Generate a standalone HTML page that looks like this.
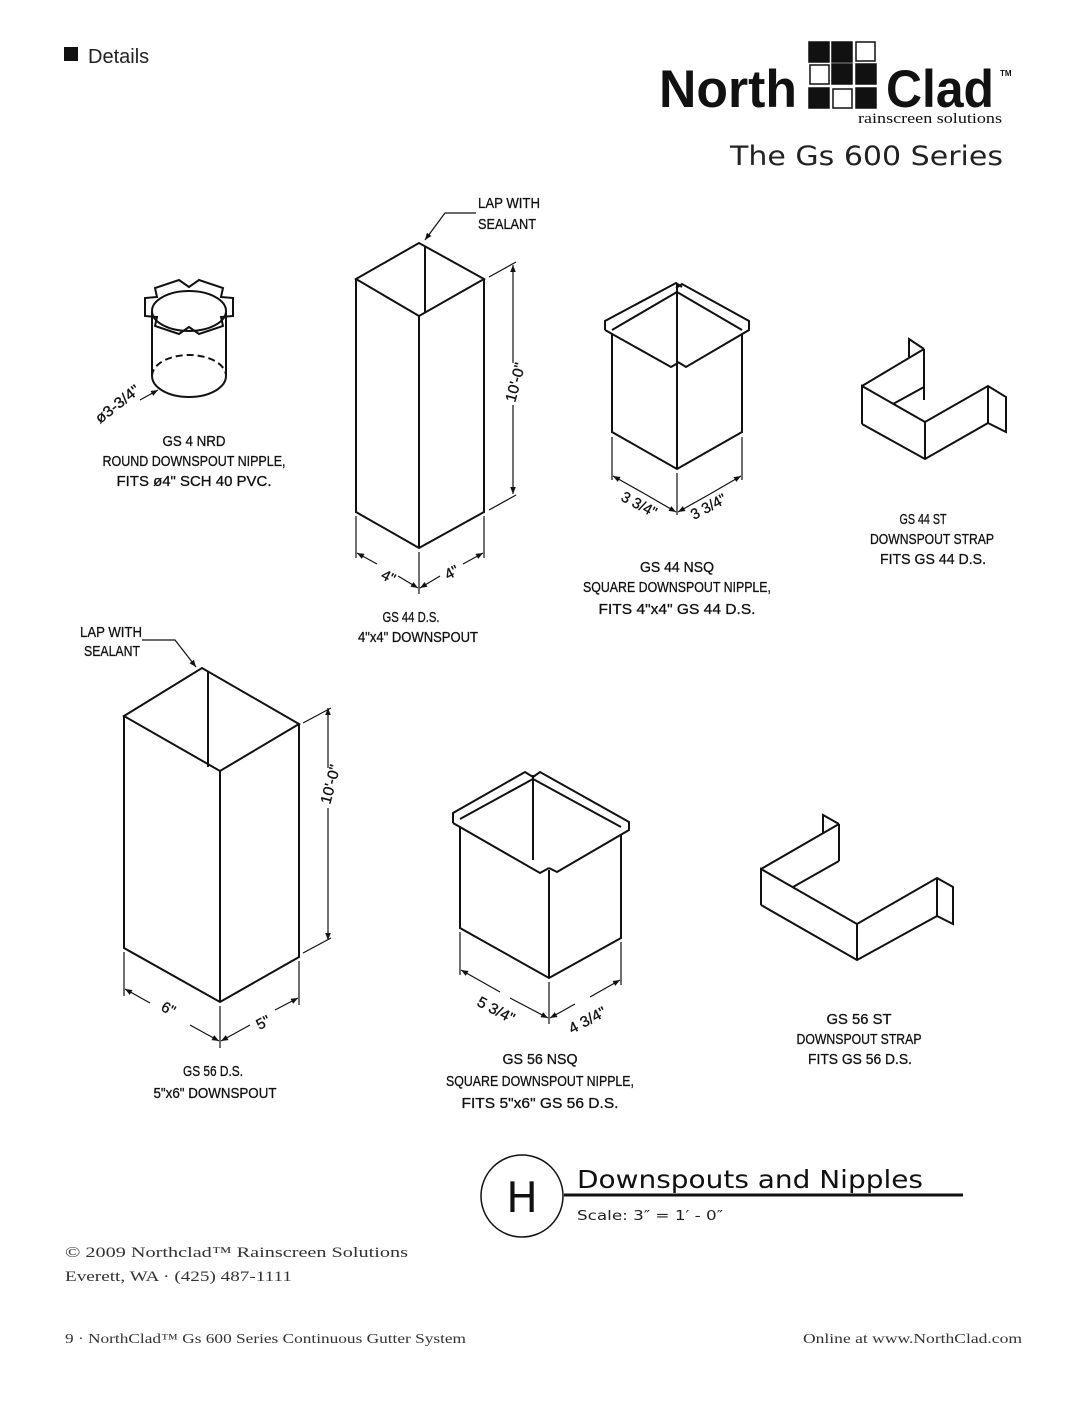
<!DOCTYPE html>
<html><head><meta charset="utf-8"><style>
html,body{margin:0;padding:0;background:#fff;}
svg{display:block;}
.t{font-family:"Liberation Sans Narrow","Liberation Sans",sans-serif;font-size:15px;fill:#111;stroke:#111;stroke-width:0.3;}
.l{fill:none;stroke:#111;stroke-width:2;stroke-linejoin:miter;}
.d{fill:none;stroke:#111;stroke-width:1.2;}
</style></head><body>
<svg width="1088" height="1408" viewBox="0 0 1088 1408" xmlns="http://www.w3.org/2000/svg">
<defs>
<marker id="a" viewBox="0 0 10 10" refX="10" refY="5" markerWidth="9" markerHeight="7" orient="auto-start-reverse" markerUnits="userSpaceOnUse"><path d="M0,1 L10,5 L0,9 z" fill="#111"/></marker>
</defs>
<!-- header -->
<rect x="64" y="47" width="14" height="14" fill="#111"/>
<text x="88" y="63" font-family="Liberation Sans,sans-serif" font-size="20" fill="#222">Details</text>
<text x="659" y="107" font-family="Liberation Sans,sans-serif" font-weight="bold" font-size="53" fill="#111" textLength="138" lengthAdjust="spacingAndGlyphs">North</text>
<text x="886" y="107" font-family="Liberation Sans,sans-serif" font-weight="bold" font-size="53" fill="#111" textLength="108" lengthAdjust="spacingAndGlyphs">Clad</text>
<text x="1000" y="76" font-family="Liberation Sans,sans-serif" font-weight="bold" font-size="8" fill="#111">TM</text>
<g fill="#111" stroke="#111" stroke-width="1.5">
<rect x="809" y="42" width="20" height="20"/><rect x="832" y="42" width="20" height="20"/><rect x="856" y="42" width="19" height="19" fill="#fff"/>
<rect x="810" y="65" width="19" height="19" fill="#fff"/><rect x="832" y="64" width="20" height="20"/><rect x="856" y="64" width="20" height="20"/>
<rect x="809" y="88" width="20" height="20"/><rect x="833" y="89" width="19" height="19" fill="#fff"/><rect x="856" y="88" width="20" height="20"/>
</g>
<text x="858" y="123" font-family="Liberation Serif,serif" font-size="15" fill="#111" textLength="144" lengthAdjust="spacingAndGlyphs">rainscreen solutions</text>
<text x="730" y="165" font-family="DejaVu Sans,sans-serif" font-size="27" fill="#222" textLength="273" lengthAdjust="spacingAndGlyphs">The Gs 600 Series</text>

<!-- GS 4 NRD -->
<polygon class="l" points="233,298 221,297 223,288 199,280 189,287 179,280 155,288 157,297 145,298 145,316 157,317 155,326 179,334 189,327 199,334 223,326 221,317 233,316" fill="#fff"/>
<line class="l" x1="152" y1="312" x2="152" y2="376"/><line class="l" x1="226" y1="312" x2="226" y2="376"/>
<ellipse class="l" cx="189" cy="311" rx="37" ry="20" fill="#fff"/>
<path class="l" d="M152,376 A37,21 0 0 0 226,376"/>
<path class="l" d="M152,376 A37,21 0 0 1 226,376" stroke-dasharray="7,4"/>
<line class="d" x1="140" y1="400" x2="158" y2="390" marker-end="url(#a)"/>
<text class="t" transform="translate(100,424) rotate(-38)" textLength="52" lengthAdjust="spacingAndGlyphs">ø3-3/4"</text>
<text class="t" x="194" y="446" text-anchor="middle" textLength="63" lengthAdjust="spacingAndGlyphs">GS 4 NRD</text>
<text class="t" x="194" y="466" text-anchor="middle" textLength="183" lengthAdjust="spacingAndGlyphs">ROUND DOWNSPOUT NIPPLE,</text>
<text class="t" x="194" y="486" text-anchor="middle" textLength="155" lengthAdjust="spacingAndGlyphs">FITS ø4"  SCH 40 PVC.</text>

<!-- GS 44 DS -->
<polygon class="l" points="356,279 419,243 484,279 419,316"/>
<line class="l" x1="425" y1="246" x2="425" y2="313"/>
<polyline class="l" points="356,279 356,512 419,548 484,512 484,279"/>
<line class="l" x1="419" y1="316" x2="419" y2="548"/>
<polyline class="d" points="476,213 445,213 425,240" marker-end="url(#a)"/>
<text class="t" x="478" y="208" textLength="62" lengthAdjust="spacingAndGlyphs">LAP WITH</text>
<text class="t" x="478" y="229" textLength="58" lengthAdjust="spacingAndGlyphs">SEALANT</text>
<line class="d" x1="489" y1="277" x2="516" y2="262"/><line class="d" x1="489" y1="510" x2="516" y2="495"/>
<line class="d" x1="513" y1="363" x2="513" y2="265" marker-end="url(#a)"/>
<line class="d" x1="513" y1="405" x2="513" y2="494" marker-end="url(#a)"/>
<text class="t" transform="translate(515,403) rotate(-75)" textLength="40" lengthAdjust="spacingAndGlyphs">10'-0"</text>
<line class="d" x1="356" y1="516" x2="356" y2="558"/><line class="d" x1="484" y1="516" x2="484" y2="558"/><line class="d" x1="419" y1="552" x2="419" y2="594"/>
<line class="d" x1="377" y1="564" x2="357" y2="553" marker-end="url(#a)"/><line class="d" x1="398" y1="576" x2="418" y2="588" marker-end="url(#a)"/>
<line class="d" x1="463" y1="564" x2="483" y2="553" marker-end="url(#a)"/><line class="d" x1="440" y1="576" x2="420" y2="588" marker-end="url(#a)"/>
<text class="t" transform="translate(380,578) rotate(28)">4"</text>
<text class="t" transform="translate(448,580) rotate(-28)">4"</text>
<text class="t" x="411" y="622" text-anchor="middle" textLength="57" lengthAdjust="spacingAndGlyphs">GS 44 D.S.</text>
<text class="t" x="418" y="642" text-anchor="middle" textLength="120" lengthAdjust="spacingAndGlyphs">4"x4" DOWNSPOUT</text>

<!-- GS 44 NSQ -->
<polyline class="l" points="605,330 605,321 676,283 682,287"/>
<polyline class="l" points="676,288 682,284 749,321 749,330 686,367 678,362"/>
<polyline class="l" points="605,330 671,367 678,363"/>
<line class="l" x1="612" y1="330" x2="677" y2="292"/>
<line class="l" x1="677" y1="292" x2="742" y2="330"/>
<polyline class="l" points="612,334 612,432 677,469 742,432 742,334"/>
<line class="l" x1="677" y1="284" x2="677" y2="469"/>
<line class="d" x1="612" y1="437" x2="612" y2="480"/><line class="d" x1="742" y1="437" x2="742" y2="480"/><line class="d" x1="677" y1="473" x2="677" y2="515"/>
<line class="d" x1="645" y1="494" x2="613" y2="476" marker-end="url(#a)"/><line class="d" x1="645" y1="494" x2="676" y2="512" marker-end="url(#a)"/>
<line class="d" x1="710" y1="494" x2="741" y2="476" marker-end="url(#a)"/><line class="d" x1="710" y1="494" x2="678" y2="512" marker-end="url(#a)"/>
<text class="t" transform="translate(620,500) rotate(28)" textLength="38" lengthAdjust="spacingAndGlyphs">3 3/4"</text>
<text class="t" transform="translate(694,520) rotate(-28)" textLength="38" lengthAdjust="spacingAndGlyphs">3 3/4"</text>
<text class="t" x="677" y="572" text-anchor="middle" textLength="74" lengthAdjust="spacingAndGlyphs">GS 44 NSQ</text>
<text class="t" x="677" y="592" text-anchor="middle" textLength="188" lengthAdjust="spacingAndGlyphs">SQUARE DOWNSPOUT NIPPLE,</text>
<text class="t" x="677" y="614" text-anchor="middle" textLength="157" lengthAdjust="spacingAndGlyphs">FITS 4"x4"  GS 44 D.S.</text>

<!-- GS 44 ST -->
<g class="l">
<polyline points="909,357 909,339 924,349"/>
<line x1="862" y1="386" x2="924" y2="349"/>
<line x1="924" y1="349" x2="924" y2="400"/>
<line x1="893" y1="404" x2="924" y2="387"/>
<polyline points="862,424 862,386 925,422 988,386 1006,397 1006,432 988,423"/>
<polyline points="862,424 925,459 988,423 988,386"/>
<line x1="925" y1="422" x2="925" y2="459"/>
</g>
<text class="t" x="923" y="524" text-anchor="middle" textLength="47" lengthAdjust="spacingAndGlyphs">GS 44 ST</text>
<text class="t" x="932" y="544" text-anchor="middle" textLength="124" lengthAdjust="spacingAndGlyphs">DOWNSPOUT STRAP</text>
<text class="t" x="933" y="564" text-anchor="middle" textLength="106" lengthAdjust="spacingAndGlyphs">FITS GS 44 D.S.</text>

<!-- GS 56 DS -->
<polygon class="l" points="124,716 202,668 299,724 220,771"/>
<line class="l" x1="208" y1="672" x2="208" y2="767"/>
<polyline class="l" points="124,716 124,948 220,1002 299,957 299,724"/>
<line class="l" x1="220" y1="771" x2="220" y2="1002"/>
<polyline class="d" points="142,640 175,640 196,667" marker-end="url(#a)"/>
<text class="t" x="80" y="637" textLength="62" lengthAdjust="spacingAndGlyphs">LAP WITH</text>
<text class="t" x="84" y="656" textLength="56" lengthAdjust="spacingAndGlyphs">SEALANT</text>
<line class="d" x1="303" y1="723" x2="331" y2="708"/><line class="d" x1="303" y1="953" x2="331" y2="938"/>
<line class="d" x1="328" y1="768" x2="328" y2="708" marker-end="url(#a)"/>
<line class="d" x1="328" y1="808" x2="328" y2="940" marker-end="url(#a)"/>
<text class="t" transform="translate(330,805) rotate(-75)" textLength="40" lengthAdjust="spacingAndGlyphs">10'-0"</text>
<line class="d" x1="124" y1="952" x2="124" y2="996"/><line class="d" x1="299" y1="961" x2="299" y2="1005"/><line class="d" x1="220" y1="1006" x2="220" y2="1048"/>
<line class="d" x1="150" y1="1003" x2="125" y2="989" marker-end="url(#a)"/><line class="d" x1="190" y1="1025" x2="219" y2="1041" marker-end="url(#a)"/>
<line class="d" x1="275" y1="1010" x2="298" y2="998" marker-end="url(#a)"/><line class="d" x1="250" y1="1025" x2="221" y2="1041" marker-end="url(#a)"/>
<text class="t" transform="translate(160,1010) rotate(28)">6"</text>
<text class="t" x="256" y="1028" transform="rotate(-28 262 1022)">5"</text>
<text class="t" x="213" y="1076" text-anchor="middle" textLength="60" lengthAdjust="spacingAndGlyphs">GS 56 D.S.</text>
<text class="t" x="215" y="1098" text-anchor="middle" textLength="123" lengthAdjust="spacingAndGlyphs">5"x6" DOWNSPOUT</text>

<!-- GS 56 NSQ -->
<polyline class="l" points="453,823 453,813 525,772 533,777"/>
<polyline class="l" points="533,777 540,772 629,822 629,830 557,872 549,868"/>
<polyline class="l" points="453,823 540,873 549,868"/>
<line class="l" x1="460" y1="819" x2="533" y2="779"/>
<line class="l" x1="533" y1="779" x2="621" y2="827"/>
<polyline class="l" points="460,827 460,928 549,978 621,938 621,834"/>
<line class="l" x1="549" y1="870" x2="549" y2="978"/>
<line class="l" x1="533" y1="775" x2="533" y2="860"/>
<line class="d" x1="460" y1="932" x2="460" y2="975"/><line class="d" x1="621" y1="942" x2="621" y2="985"/><line class="d" x1="549" y1="982" x2="549" y2="1024"/>
<line class="d" x1="500" y1="992" x2="461" y2="970" marker-end="url(#a)"/><line class="d" x1="510" y1="998" x2="548" y2="1018" marker-end="url(#a)"/>
<line class="d" x1="590" y1="997" x2="620" y2="980" marker-end="url(#a)"/><line class="d" x1="575" y1="1004" x2="550" y2="1018" marker-end="url(#a)"/>
<text class="t" transform="translate(476,1005) rotate(28)" textLength="40" lengthAdjust="spacingAndGlyphs">5 3/4"</text>
<text class="t" transform="translate(572,1034) rotate(-28)" textLength="40" lengthAdjust="spacingAndGlyphs">4 3/4"</text>
<text class="t" x="540" y="1064" text-anchor="middle" textLength="75" lengthAdjust="spacingAndGlyphs">GS 56 NSQ</text>
<text class="t" x="540" y="1086" text-anchor="middle" textLength="188" lengthAdjust="spacingAndGlyphs">SQUARE DOWNSPOUT NIPPLE,</text>
<text class="t" x="540" y="1108" text-anchor="middle" textLength="157" lengthAdjust="spacingAndGlyphs">FITS 5"x6"  GS 56 D.S.</text>

<!-- GS 56 ST -->
<g class="l">
<polyline points="823,833 823,815 839,824"/>
<line x1="761" y1="869" x2="839" y2="824"/>
<line x1="839" y1="824" x2="839" y2="861"/>
<line x1="793" y1="887" x2="839" y2="861"/>
<polyline points="761,905 761,869 857,924 937,878 953,887 953,924 937,916"/>
<polyline points="761,905 857,960 937,916 937,878"/>
<line x1="857" y1="924" x2="857" y2="960"/>
</g>
<text class="t" x="859" y="1024" text-anchor="middle" textLength="65" lengthAdjust="spacingAndGlyphs">GS 56 ST</text>
<text class="t" x="859" y="1044" text-anchor="middle" textLength="125" lengthAdjust="spacingAndGlyphs">DOWNSPOUT STRAP</text>
<text class="t" x="860" y="1064" text-anchor="middle" textLength="104" lengthAdjust="spacingAndGlyphs">FITS GS 56 D.S.</text>

<!-- title block -->
<circle cx="522" cy="1196" r="41" fill="none" stroke="#111" stroke-width="1.5"/>
<text x="522" y="1212" text-anchor="middle" font-family="DejaVu Sans,sans-serif" font-size="42" fill="#111">H</text>
<text x="577" y="1188" font-family="DejaVu Sans,sans-serif" font-size="25" fill="#111" textLength="346" lengthAdjust="spacingAndGlyphs">Downspouts and Nipples</text>
<line x1="564" y1="1195" x2="963" y2="1195" stroke="#111" stroke-width="3"/>
<text x="577" y="1220" font-family="DejaVu Sans,sans-serif" font-size="13" fill="#222" textLength="146" lengthAdjust="spacingAndGlyphs">Scale: 3″ = 1′ - 0″</text>

<!-- footer -->
<text x="65" y="1257" font-family="Liberation Serif,serif" font-size="15" fill="#333" textLength="343" lengthAdjust="spacingAndGlyphs">© 2009 Northclad™ Rainscreen Solutions</text>
<text x="65" y="1281" font-family="Liberation Serif,serif" font-size="15" fill="#333" textLength="227" lengthAdjust="spacingAndGlyphs">Everett, WA · (425) 487-1111</text>
<text x="65" y="1343" font-family="Liberation Serif,serif" font-size="14" fill="#333" textLength="401" lengthAdjust="spacingAndGlyphs">9 · NorthClad™ Gs 600 Series Continuous Gutter System</text>
<text x="1022" y="1343" text-anchor="end" font-family="Liberation Serif,serif" font-size="14" fill="#333" textLength="219" lengthAdjust="spacingAndGlyphs">Online at www.NorthClad.com</text>
</svg>
</body></html>
